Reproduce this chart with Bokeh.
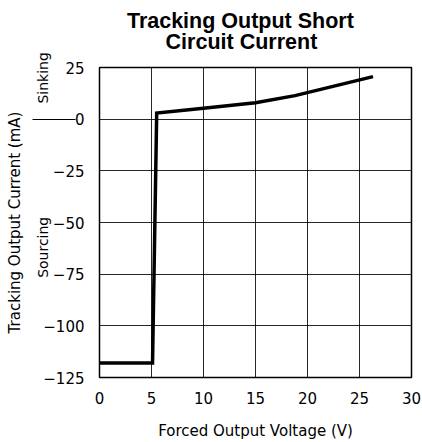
import numpy as np
from bokeh.plotting import figure
from bokeh.models import FixedTicker, LinearAxis, Range1d
from bokeh.embed import file_html
from bokeh.resources import INLINE

# ---- data ----
voltage = [0.0, 5.1, 5.5, 10.0, 15.0, 18.8, 26.3]
current = [-118.0, -118.0, 3.0, 5.3, 7.9, 11.4, 20.6]

x_ticks = [0, 5, 10, 15, 20, 25, 30]
y_ticks = [25, 0, -25, -50, -75, -100, -125]
y_tick_labels = ["25", "0", "\u221225", "\u221250", "\u221275", "\u2212100", "\u2212125"]

title_lines = ["Tracking Output Short", "Circuit Current"]
title_x = [13.55, 13.65]
x_label = "Forced Output Voltage (V)"
y_label = "Tracking Output Current (mA)"
region_labels = ["Sinking", "Sourcing"]
region_y = [20.0, -62.0]
divider_y = [0]

FONT = "DejaVu Sans"

p = figure(width=422, height=442, output_backend="svg", toolbar_location=None,
           title_location=None,
           x_range=Range1d(0, 30), y_range=Range1d(-125, 25),
           min_border_left=99, min_border_right=11, min_border_top=67, min_border_bottom=64)
p.background_fill_color = "white"
p.border_fill_color = "white"
p.outline_line_color = "black"
p.outline_line_width = 1.5


def style(ax, size="15px"):
    ax.axis_line_color = None
    ax.major_tick_line_color = None
    ax.minor_tick_line_color = None
    ax.major_label_text_font = FONT
    ax.major_label_text_font_size = size
    ax.major_label_text_color = "black"
    ax.axis_label_text_font = FONT
    ax.axis_label_text_font_size = "15px"
    ax.axis_label_text_font_style = "normal"
    ax.axis_label_text_color = "black"


style(p.xaxis[0])
style(p.yaxis[0])
p.xaxis.ticker = FixedTicker(ticks=x_ticks)
p.yaxis.ticker = FixedTicker(ticks=y_ticks)
p.yaxis.major_label_overrides = {t: l for t, l in zip(y_ticks, y_tick_labels)}
p.xaxis.major_label_standoff = 8
p.yaxis.major_label_standoff = 9
p.xaxis.axis_label = x_label
p.xaxis.axis_label_standoff = 15

# second left axis: "Sinking" / "Sourcing" region labels
region_axis = LinearAxis(ticker=FixedTicker(ticks=region_y),
                         major_label_overrides={v: t for v, t in zip(region_y, region_labels)},
                         major_label_orientation="vertical", major_label_standoff=-17)
style(region_axis, "14px")
p.add_layout(region_axis, "left")

# third left axis: divider tick at 0 and the axis title
label_axis = LinearAxis(ticker=FixedTicker(ticks=divider_y),
                        major_label_overrides={divider_y[0]: ""},
                        major_tick_in=43, major_tick_out=0, major_label_standoff=0,
                        axis_label=y_label, axis_label_standoff=9)
style(label_axis)
label_axis.major_tick_line_color = "black"
label_axis.major_tick_line_width = 1
p.add_layout(label_axis, "left")

# title lines drawn as centred labels of two axes above the frame
for i, (txt, xv, so) in enumerate([(title_lines[1], title_x[1], 8),
                                   (title_lines[0], title_x[0], -12)]):
    tax = LinearAxis(ticker=FixedTicker(ticks=[xv]),
                     major_label_overrides={xv: txt}, major_label_standoff=so)
    style(tax, "21.5px")
    tax.major_label_text_font = "Liberation Sans"
    tax.major_label_text_font_style = "bold"
    p.add_layout(tax, "above")

p.xgrid.grid_line_color = "black"
p.ygrid.grid_line_color = "black"
p.xgrid.grid_line_width = 1
p.ygrid.grid_line_width = 1
p.xgrid.grid_line_alpha = 0.85
p.ygrid.grid_line_alpha = 0.85

p.line(voltage, current, line_color="black", line_width=3.5, line_join="miter")

open("out.html", "w").write(file_html(p, INLINE))
